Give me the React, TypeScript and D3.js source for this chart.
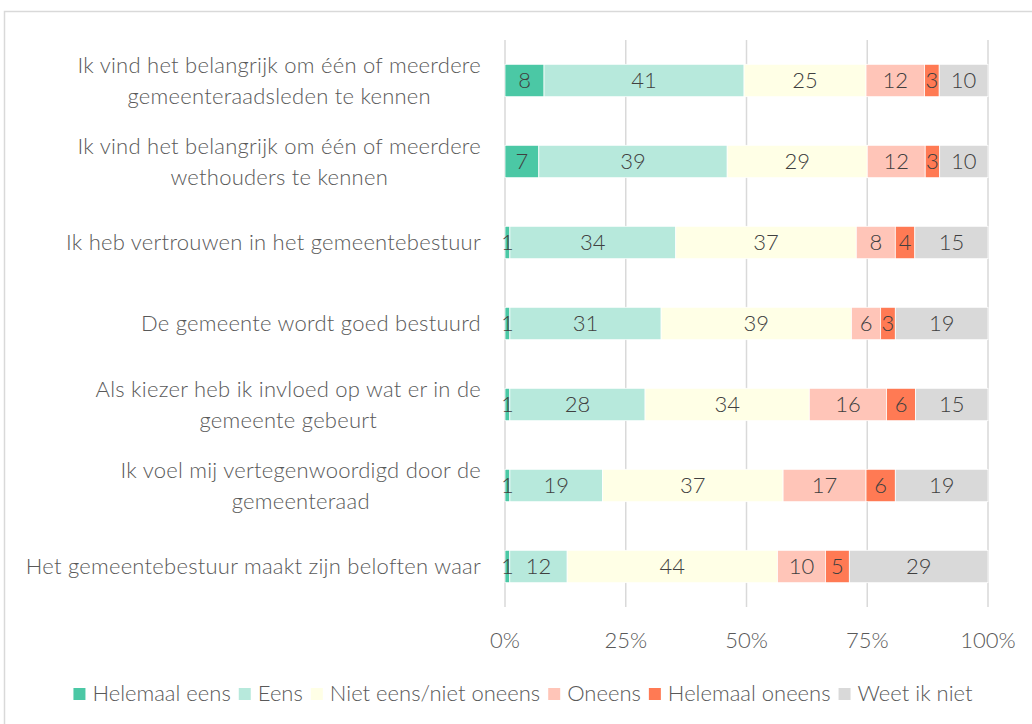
import React, { useEffect, useRef } from "react";
import * as d3 from "d3";

const categories: string[] = [
  "Ik vind het belangrijk om één of meerdere\ngemeenteraadsleden te kennen",
  "Ik vind het belangrijk om één of meerdere\nwethouders te kennen",
  "Ik heb vertrouwen in het gemeentebestuur",
  "De gemeente wordt goed bestuurd",
  "Als kiezer heb ik invloed op wat er in de\ngemeente gebeurt",
  "Ik voel mij vertegenwoordigd door de\ngemeenteraad",
  "Het gemeentebestuur maakt zijn beloften waar",
];

const seriesNames: string[] = [
  "Helemaal eens",
  "Eens",
  "Niet eens/niet oneens",
  "Oneens",
  "Helemaal oneens",
  "Weet ik niet",
];

const helemaalEens: number[] = [8, 7, 1, 1, 1, 1, 1];
const eens: number[] = [41, 39, 34, 31, 28, 19, 12];
const nietEensNietOneens: number[] = [25, 29, 37, 39, 34, 37, 44];
const oneens: number[] = [12, 12, 8, 6, 16, 17, 10];
const helemaalOneens: number[] = [3, 3, 4, 3, 6, 6, 5];
const weetIkNiet: number[] = [10, 10, 15, 19, 15, 19, 29];

const tickValues: number[] = [0, 0.25, 0.5, 0.75, 1];

const colors: string[] = ["#4BC8A5", "#B7E9DC", "#FFFFE6", "#FFC5B8", "#FF7A54", "#D9D9D9"];

const FONT = "Lato, 'Source Sans Pro', 'Open Sans', sans-serif";

export default function App() {
  const ref = useRef<SVGSVGElement | null>(null);

  useEffect(() => {
    const svg = d3.select(ref.current);
    svg.selectAll("*").remove();

    const seriesValues = [helemaalEens, eens, nietEensNietOneens, oneens, helemaalOneens, weetIkNiet];
    const rows = categories.map((c, i) => {
      const r: any = { cat: c };
      seriesNames.forEach((s, j) => (r[s] = seriesValues[j][i]));
      return r;
    });

    const stack = d3.stack<any>().keys(seriesNames).offset(d3.stackOffsetExpand);
    const stacked = stack(rows);

    const x = d3.scaleLinear().domain([0, 1]).range([505, 988]);
    const y = d3
      .scaleBand<string>()
      .domain(categories)
      .range([40, 607])
      .paddingInner(0.6)
      .paddingOuter(0.3);

    // frame
    svg
      .append("rect")
      .attr("x", 4.5)
      .attr("y", 11.5)
      .attr("width", 1100)
      .attr("height", 800)
      .attr("fill", "white")
      .attr("stroke", "#D9D9D9")
      .attr("stroke-width", 1.5);

    // gridlines
    svg
      .append("g")
      .selectAll("line")
      .data(tickValues)
      .join("line")
      .attr("x1", (d) => x(d))
      .attr("x2", (d) => x(d))
      .attr("y1", 40)
      .attr("y2", 607)
      .attr("stroke", "#D9D9D9")
      .attr("stroke-width", 1.5);

    // tick labels
    svg
      .append("g")
      .selectAll("text")
      .data(tickValues)
      .join("text")
      .attr("x", (d) => x(d))
      .attr("y", 640)
      .attr("dy", "0.35em")
      .attr("text-anchor", "middle")
      .attr("font-family", FONT)
      .attr("font-weight", 300)
      .attr("font-size", 22)
      .attr("fill", "#595959")
      .text((d) => d3.format(".0%")(d));

    // bars
    const g = svg.append("g");
    stacked.forEach((layer, j) => {
      const lg = g.append("g");
      lg.selectAll("rect")
        .data(layer)
        .join("rect")
        .attr("x", (d) => x(d[0]))
        .attr("width", (d) => x(d[1]) - x(d[0]))
        .attr("y", (d: any) => y(d.data.cat)!)
        .attr("height", y.bandwidth())
        .attr("fill", colors[j])
        .attr("stroke", "white")
        .attr("stroke-width", 0.75);
    });
    stacked.forEach((layer, j) => {
      g.append("g")
        .selectAll("text")
        .data(layer)
        .join("text")
        .attr("x", (d) => (x(d[0]) + x(d[1])) / 2)
        .attr("y", (d: any) => y(d.data.cat)! + y.bandwidth() / 2)
        .attr("dy", "0.35em")
        .attr("text-anchor", "middle")
        .attr("font-family", FONT)
        .attr("font-weight", 300)
        .attr("font-size", 22)
        .attr("fill", "#404040")
        .text((d: any) => d.data[seriesNames[j]]);
    });

    // category labels
    const labelRight = 481;
    const lineH = 31;
    categories.forEach((c) => {
      const lines = c.split("\n");
      const cy = y(c)! + y.bandwidth() / 2;
      const t = svg
        .append("text")
        .attr("font-family", FONT)
        .attr("font-weight", 300)
        .attr("font-size", 22)
        .attr("letter-spacing", 0.25)
        .attr("fill", "#595959")
        .attr("text-anchor", "middle");
      const spans = lines.map((ln, k) =>
        t
          .append("tspan")
          .attr("y", cy + (k - (lines.length - 1) / 2) * lineH)
          .attr("dy", "0.35em")
          .text(ln)
      );
      let maxW = 0;
      spans.forEach((s) => {
        const w = (s.node() as SVGTSpanElement).getComputedTextLength();
        if (w > maxW) maxW = w;
      });
      spans.forEach((s) => s.attr("x", labelRight - maxW / 2));
    });

    // legend
    const lg = svg.append("g");
    const items: { g: any; w: number }[] = [];
    const sq = 12;
    const gap1 = 7;
    const gap2 = 8;
    seriesNames.forEach((s, j) => {
      const ig = lg.append("g");
      ig.append("rect")
        .attr("x", 0)
        .attr("y", 688)
        .attr("width", sq)
        .attr("height", sq)
        .attr("fill", colors[j]);
      const tx = ig
        .append("text")
        .attr("x", sq + gap1)
        .attr("y", 693)
        .attr("dy", "0.35em")
        .attr("font-family", FONT)
        .attr("font-weight", 300)
        .attr("font-size", 22)
        .attr("fill", "#595959")
        .text(s);
      const w = sq + gap1 + (tx.node() as SVGTextElement).getComputedTextLength();
      items.push({ g: ig, w });
    });
    const total = d3.sum(items, (d) => d.w) + gap2 * (items.length - 1);
    let cx = 523 - total / 2;
    items.forEach((it) => {
      it.g.attr("transform", `translate(${cx},0)`);
      cx += it.w + gap2;
    });
  }, []);

  return (
    <svg
      ref={ref}
      width={1032}
      height={724}
      style={{ position: "absolute", left: 0, top: 0, display: "block" }}
    />
  );
}
